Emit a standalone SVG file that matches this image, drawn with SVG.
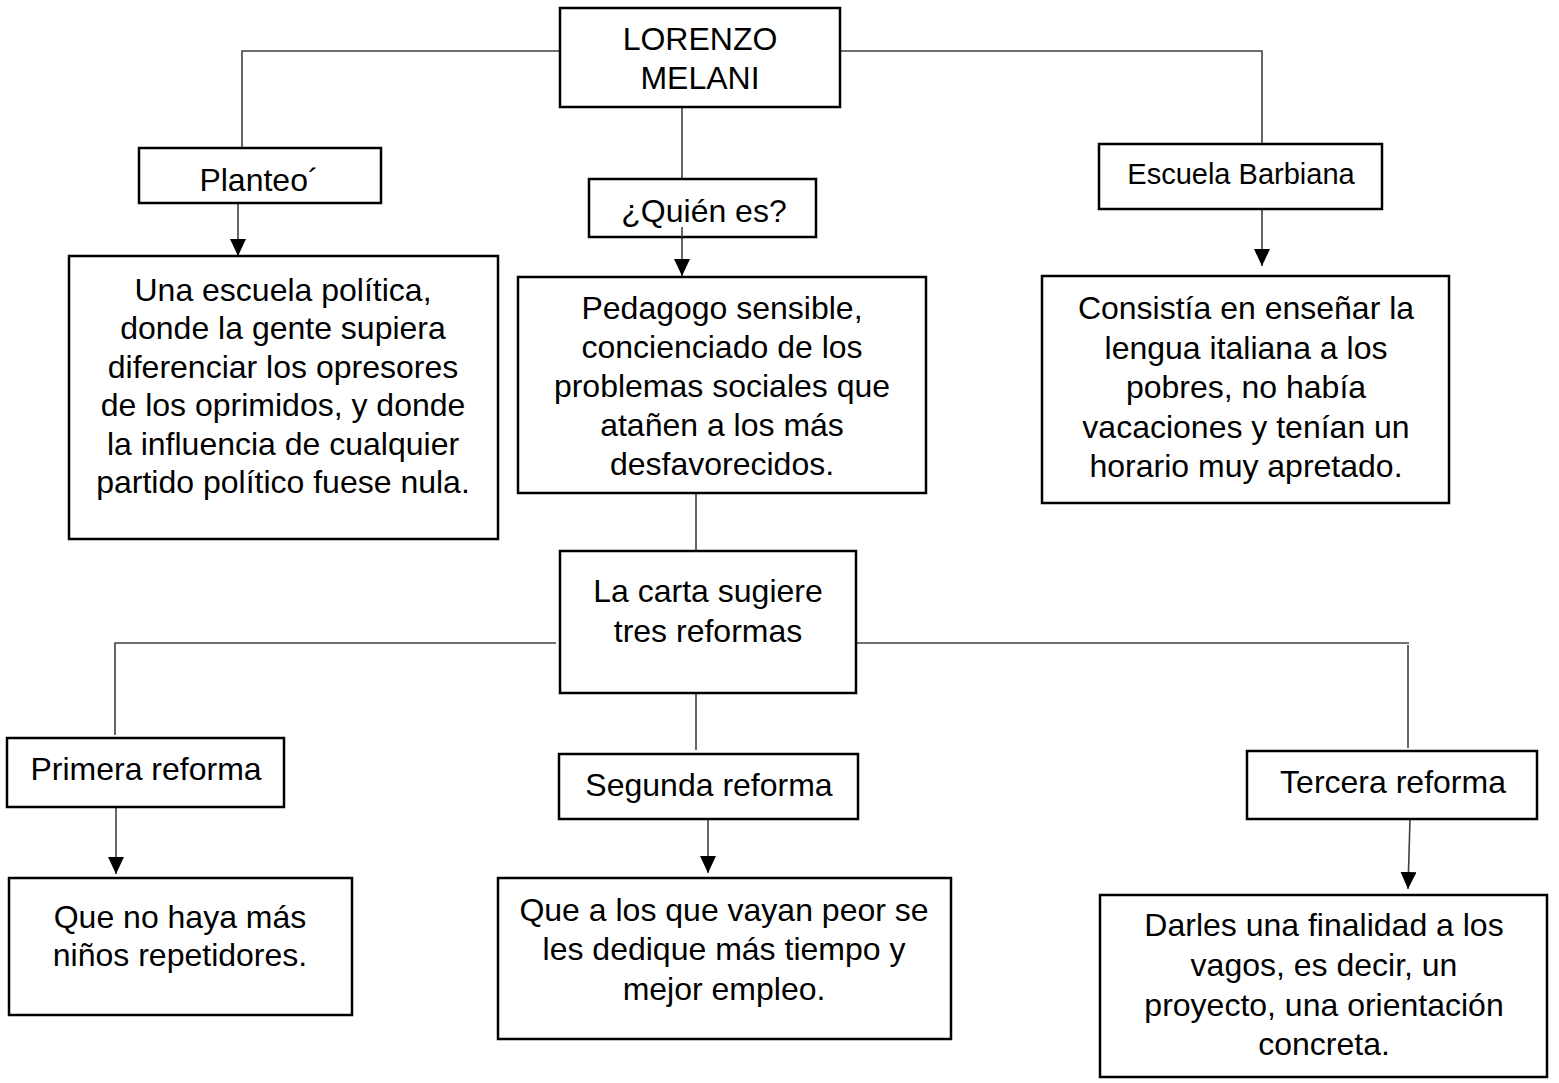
<svg xmlns="http://www.w3.org/2000/svg" width="1559" height="1083" viewBox="0 0 1559 1083">
<style>
.box{fill:#fff;stroke:#000;stroke-width:2.5}
.c{fill:none;stroke:#404040;stroke-width:1.6}
.t{font-family:"Liberation Sans",Arial,sans-serif;font-size:32px;fill:#000;text-anchor:middle}
.s{font-size:29px}
</style>
<defs>
<marker id="ah" markerUnits="userSpaceOnUse" markerWidth="17" markerHeight="17" refX="17" refY="8" orient="auto">
<path d="M0,0 L17,8 L0,16 Z" fill="#000"/>
</marker>
</defs>
<rect width="1559" height="1083" fill="#fff"/>
<g id="connectors">
<path class="c" d="M242,148 V51 H559"/>
<path class="c" d="M840,51 H1262 V144"/>
<path class="c" d="M682,107 V179"/>
<path class="c" d="M696,493 V550"/>
<path class="c" d="M556,643 H115 V735"/>
<path class="c" d="M856,643 H1409"/>
<path class="c" d="M1408,645 V748"/>
<path class="c" d="M696,693 V750"/>
<line class="c" x1="238" y1="203" x2="238" y2="256" marker-end="url(#ah)"/>
<line class="c" x1="682" y1="227" x2="682" y2="276" marker-end="url(#ah)"/>
<line class="c" x1="1262" y1="209" x2="1262" y2="266" marker-end="url(#ah)"/>
<line class="c" x1="116" y1="807" x2="116" y2="874" marker-end="url(#ah)"/>
<line class="c" x1="708" y1="809" x2="708" y2="873" marker-end="url(#ah)"/>
<line class="c" x1="1410" y1="819" x2="1408" y2="889" marker-end="url(#ah)"/>
</g>
<g id="n-lorenzo"><rect class="box" x="560" y="8" width="280" height="99"/>
<text class="t" x="700" y="50">LORENZO</text><text class="t" x="700" y="89">MELANI</text></g>
<g id="n-planteo"><rect class="box" x="139" y="148" width="242" height="55"/>
<text class="t" x="259" y="191">Planteo´</text></g>
<g id="n-quien"><rect class="box" x="589" y="179" width="227" height="58"/>
<text class="t" x="704" y="222">¿Quién es?</text></g>
<line class="c" x1="682" y1="227" x2="682" y2="237"/>
<g id="n-barbiana"><rect class="box" x="1099" y="144" width="283" height="65"/>
<text class="t s" x="1241" y="184">Escuela Barbiana</text></g>
<g id="n-escuela"><rect class="box" x="69" y="256" width="429" height="283"/>
<text class="t" x="283" y="300.5">Una escuela política,</text>
<text class="t" x="283" y="339">donde la gente supiera</text>
<text class="t" x="283" y="377.5">diferenciar los opresores</text>
<text class="t" x="283" y="416">de los oprimidos, y donde</text>
<text class="t" x="283" y="454.5">la influencia de cualquier</text>
<text class="t" x="283" y="493">partido político fuese nula.</text></g>
<g id="n-pedagogo"><rect class="box" x="518" y="277" width="408" height="216"/>
<text class="t" x="722" y="318.5">Pedagogo sensible,</text>
<text class="t" x="722" y="357.7">concienciado de los</text>
<text class="t" x="722" y="396.9">problemas sociales que</text>
<text class="t" x="722" y="436.1">atañen a los más</text>
<text class="t" x="722" y="475.3">desfavorecidos.</text></g>
<g id="n-consistia"><rect class="box" x="1042" y="276" width="407" height="227"/>
<text class="t" x="1246" y="319">Consistía en enseñar la</text>
<text class="t" x="1246" y="359">lengua italiana a los</text>
<text class="t" x="1246" y="398">pobres, no había</text>
<text class="t" x="1246" y="438">vacaciones y tenían un</text>
<text class="t" x="1246" y="477">horario muy apretado.</text></g>
<g id="n-carta"><rect class="box" x="560" y="551" width="296" height="142"/>
<text class="t" x="708" y="602">La carta sugiere</text>
<text class="t" x="708" y="642">tres reformas</text></g>
<g id="n-primera"><rect class="box" x="7" y="738" width="277" height="69"/>
<text class="t" x="146" y="780">Primera reforma</text></g>
<g id="n-segunda"><rect class="box" x="559" y="754" width="299" height="65"/>
<text class="t" x="709" y="796">Segunda reforma</text></g>
<g id="n-tercera"><rect class="box" x="1247" y="751" width="290" height="68"/>
<text class="t" x="1393" y="793">Tercera reforma</text></g>
<g id="n-repetidores"><rect class="box" x="9" y="878" width="343" height="137"/>
<text class="t" x="180" y="927.5">Que no haya más</text>
<text class="t" x="180" y="966">niños repetidores.</text></g>
<g id="n-dedique"><rect class="box" x="498" y="878" width="453" height="161"/>
<text class="t" x="724" y="921">Que a los que vayan peor se</text>
<text class="t" x="724" y="960">les dedique más tiempo y</text>
<text class="t" x="724" y="999.5">mejor empleo.</text></g>
<g id="n-darles"><rect class="box" x="1100" y="895" width="447" height="182"/>
<text class="t" x="1324" y="936">Darles una finalidad a los</text>
<text class="t" x="1324" y="976">vagos, es decir, un</text>
<text class="t" x="1324" y="1015.5">proyecto, una orientación</text>
<text class="t" x="1324" y="1055">concreta.</text></g>
</svg>
